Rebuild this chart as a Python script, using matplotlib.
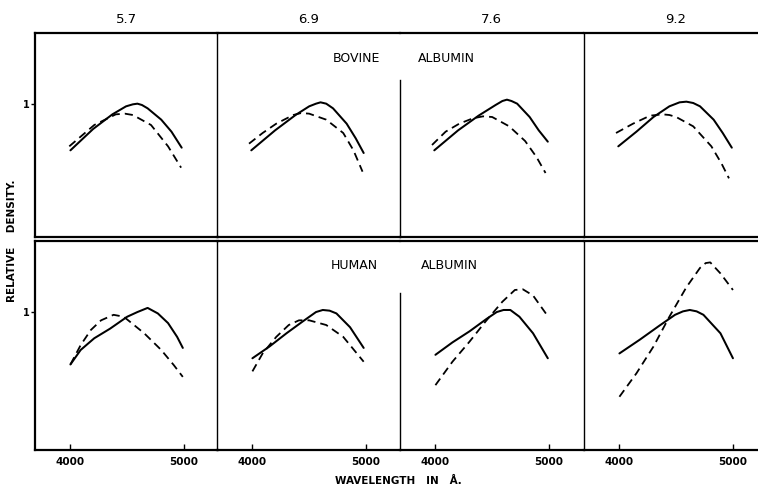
import matplotlib
matplotlib.use("Agg")
import matplotlib.pyplot as plt

# pH of each column
ph_labels = ['5.7', '6.9', '7.6', '9.2']
row_names = [('BOVINE', 'ALBUMIN'), ('HUMAN', 'ALBUMIN')]
x_ticks = [4000, 5000]

# bovine albumin, solid curves (wavelength in A, relative density)
bov_solid_wl = [
    [4000, 4200, 4370, 4490, 4550, 4590, 4630, 4680, 4800, 4890, 4980],
    [3990, 4200, 4380, 4500, 4560, 4600, 4650, 4710, 4830, 4910, 4980],
    [3990, 4200, 4380, 4530, 4590, 4630, 4670, 4720, 4830, 4910, 4990],
    [3990, 4150, 4300, 4440, 4530, 4590, 4650, 4710, 4830, 4910, 4990],
]
bov_solid_d = [
    [0.65, 0.81, 0.92, 0.98, 0.995, 1.00, 0.99, 0.965, 0.88, 0.79, 0.67],
    [0.65, 0.80, 0.915, 0.98, 1.0, 1.01, 1.0, 0.965, 0.85, 0.74, 0.63],
    [0.65, 0.80, 0.91, 0.99, 1.02, 1.03, 1.02, 1.00, 0.90, 0.80, 0.715],
    [0.68, 0.79, 0.90, 0.98, 1.01, 1.015, 1.005, 0.98, 0.88, 0.78, 0.67],
]
# bovine albumin, dashed curves
bov_dash_wl = [
    [3990, 4100, 4210, 4400, 4480, 4550, 4710, 4860, 4975],
    [3970, 4090, 4210, 4360, 4430, 4500, 4650, 4800, 4890, 4970],
    [3970, 4090, 4210, 4330, 4420, 4500, 4650, 4790, 4890, 4970],
    [3970, 4120, 4270, 4380, 4440, 4500, 4650, 4810, 4900, 4965],
]
bov_dash_d = [
    [0.68, 0.76, 0.84, 0.92, 0.925, 0.915, 0.84, 0.68, 0.52],
    [0.70, 0.78, 0.85, 0.915, 0.93, 0.925, 0.88, 0.78, 0.65, 0.49],
    [0.69, 0.79, 0.85, 0.89, 0.905, 0.90, 0.83, 0.72, 0.60, 0.48],
    [0.78, 0.85, 0.91, 0.92, 0.915, 0.90, 0.83, 0.68, 0.55, 0.44],
]

# human albumin, solid curves
hum_solid_wl = [
    [4000, 4090, 4210, 4350, 4500, 4590, 4680, 4770, 4860, 4940, 4990],
    [4000, 4150, 4300, 4440, 4560, 4620, 4680, 4740, 4860, 4980],
    [4000, 4150, 4300, 4450, 4540, 4600, 4660, 4740, 4860, 4990],
    [4000, 4180, 4350, 4490, 4560, 4620, 4680, 4740, 4890, 5000],
]
hum_solid_d = [
    [0.62, 0.725, 0.81, 0.88, 0.966, 1.00, 1.03, 0.99, 0.92, 0.82, 0.74],
    [0.665, 0.75, 0.846, 0.93, 1.00, 1.015, 1.01, 0.99, 0.89, 0.74],
    [0.69, 0.78, 0.86, 0.95, 1.00, 1.015, 1.015, 0.966, 0.846, 0.665],
    [0.70, 0.80, 0.90, 0.98, 1.005, 1.015, 1.005, 0.98, 0.846, 0.665],
]
# human albumin, dashed curves
hum_dash_wl = [
    [4000, 4090, 4180, 4270, 4380, 4470, 4650, 4800, 4910, 4990],
    [4000, 4090, 4210, 4320, 4410, 4500, 4650, 4800, 4980],
    [4000, 4150, 4300, 4440, 4590, 4700, 4770, 4860, 4990],
    [4000, 4150, 4300, 4440, 4590, 4710, 4760, 4800, 4890, 5000],
]
hum_dash_d = [
    [0.62, 0.76, 0.87, 0.94, 0.98, 0.966, 0.846, 0.725, 0.616, 0.53],
    [0.57, 0.70, 0.82, 0.906, 0.94, 0.94, 0.906, 0.82, 0.64],
    [0.47, 0.64, 0.785, 0.93, 1.075, 1.16, 1.165, 1.12, 0.97],
    [0.386, 0.556, 0.75, 0.966, 1.18, 1.32, 1.355, 1.36, 1.28, 1.16],
]

W, H = 758, 490
fig = plt.figure(figsize=(W / 100, H / 100), dpi=100)


def box(x0, y0, w, h):
    # pixel box (top-left origin) -> figure fraction
    return [x0 / W, 1 - (y0 + h) / H, w / W, h / H]


col_left = [35, 217, 400, 584]
panel_w = 183
rows = [(33, 204, 1.53), (241, 209, 1.515)]
short_div = [1.18, 1.14]  # top of the short divider in column 3

curves = [
    (bov_solid_wl, bov_solid_d, bov_dash_wl, bov_dash_d),
    (hum_solid_wl, hum_solid_d, hum_dash_wl, hum_dash_d),
]

bold = dict(fontweight='bold', family='DejaVu Sans', color='black')

for r, (y0, h, ytop) in enumerate(rows):
    swl, sd, dwl, dd = curves[r]
    for c in range(4):
        ax = fig.add_axes(box(col_left[c], y0, panel_w, h))
        ax.set_xlim(3688, 5300)
        ax.set_ylim(0, ytop)
        ax.patch.set_alpha(0)
        ax.plot(swl[c], sd[c], color='black', lw=1.45, solid_capstyle='round',
                solid_joinstyle='round')
        ax.plot(dwl[c], dd[c], color='black', lw=1.3, linestyle=(0, (4.5, 2.8)))

        ax.spines['right'].set_visible(False)
        ax.spines['top'].set_linewidth(1.6)
        ax.spines['bottom'].set_linewidth(1.6)
        if c == 0:
            ax.spines['left'].set_linewidth(1.6)
        else:
            ax.spines['left'].set_linewidth(1.0)
        if c == 2:
            ax.spines['left'].set_bounds(0, short_div[r])

        if r == 1:
            ax.set_xticks(x_ticks)
            ax.set_xticklabels([str(t) for t in x_ticks], fontsize=7.5, **bold)
            ax.tick_params(axis='x', direction='in', length=4, width=1, pad=5)
        else:
            ax.set_xticks([])
            ax.set_title(ph_labels[c], fontsize=9.5, pad=7, family='DejaVu Sans')

        if c == 0:
            ax.set_yticks([1])
            ax.set_yticklabels(['1'], fontsize=7, **bold)
            ax.tick_params(axis='y', direction='out', length=3, width=1, pad=1)
        else:
            ax.set_yticks([])

# row titles
fig.text(356 / W, 1 - 58 / H, row_names[0][0], ha='center', va='center', fontsize=9, family='DejaVu Sans')
fig.text(446 / W, 1 - 58 / H, row_names[0][1], ha='center', va='center', fontsize=9, family='DejaVu Sans')
fig.text(354 / W, 1 - 265 / H, row_names[1][0], ha='center', va='center', fontsize=9, family='DejaVu Sans')
fig.text(449 / W, 1 - 265 / H, row_names[1][1], ha='center', va='center', fontsize=9, family='DejaVu Sans')

# axis labels
fig.text(398 / W, 1 - 481 / H, 'WAVELENGTH   IN   Å.', ha='center', va='center', fontsize=7.5, **bold)
fig.text(12 / W, 1 - 241 / H, 'RELATIVE    DENSITY.', ha='center', va='center',
         rotation=90, fontsize=7.5, **bold)

fig.savefig('out.png', dpi=100, facecolor='white')
